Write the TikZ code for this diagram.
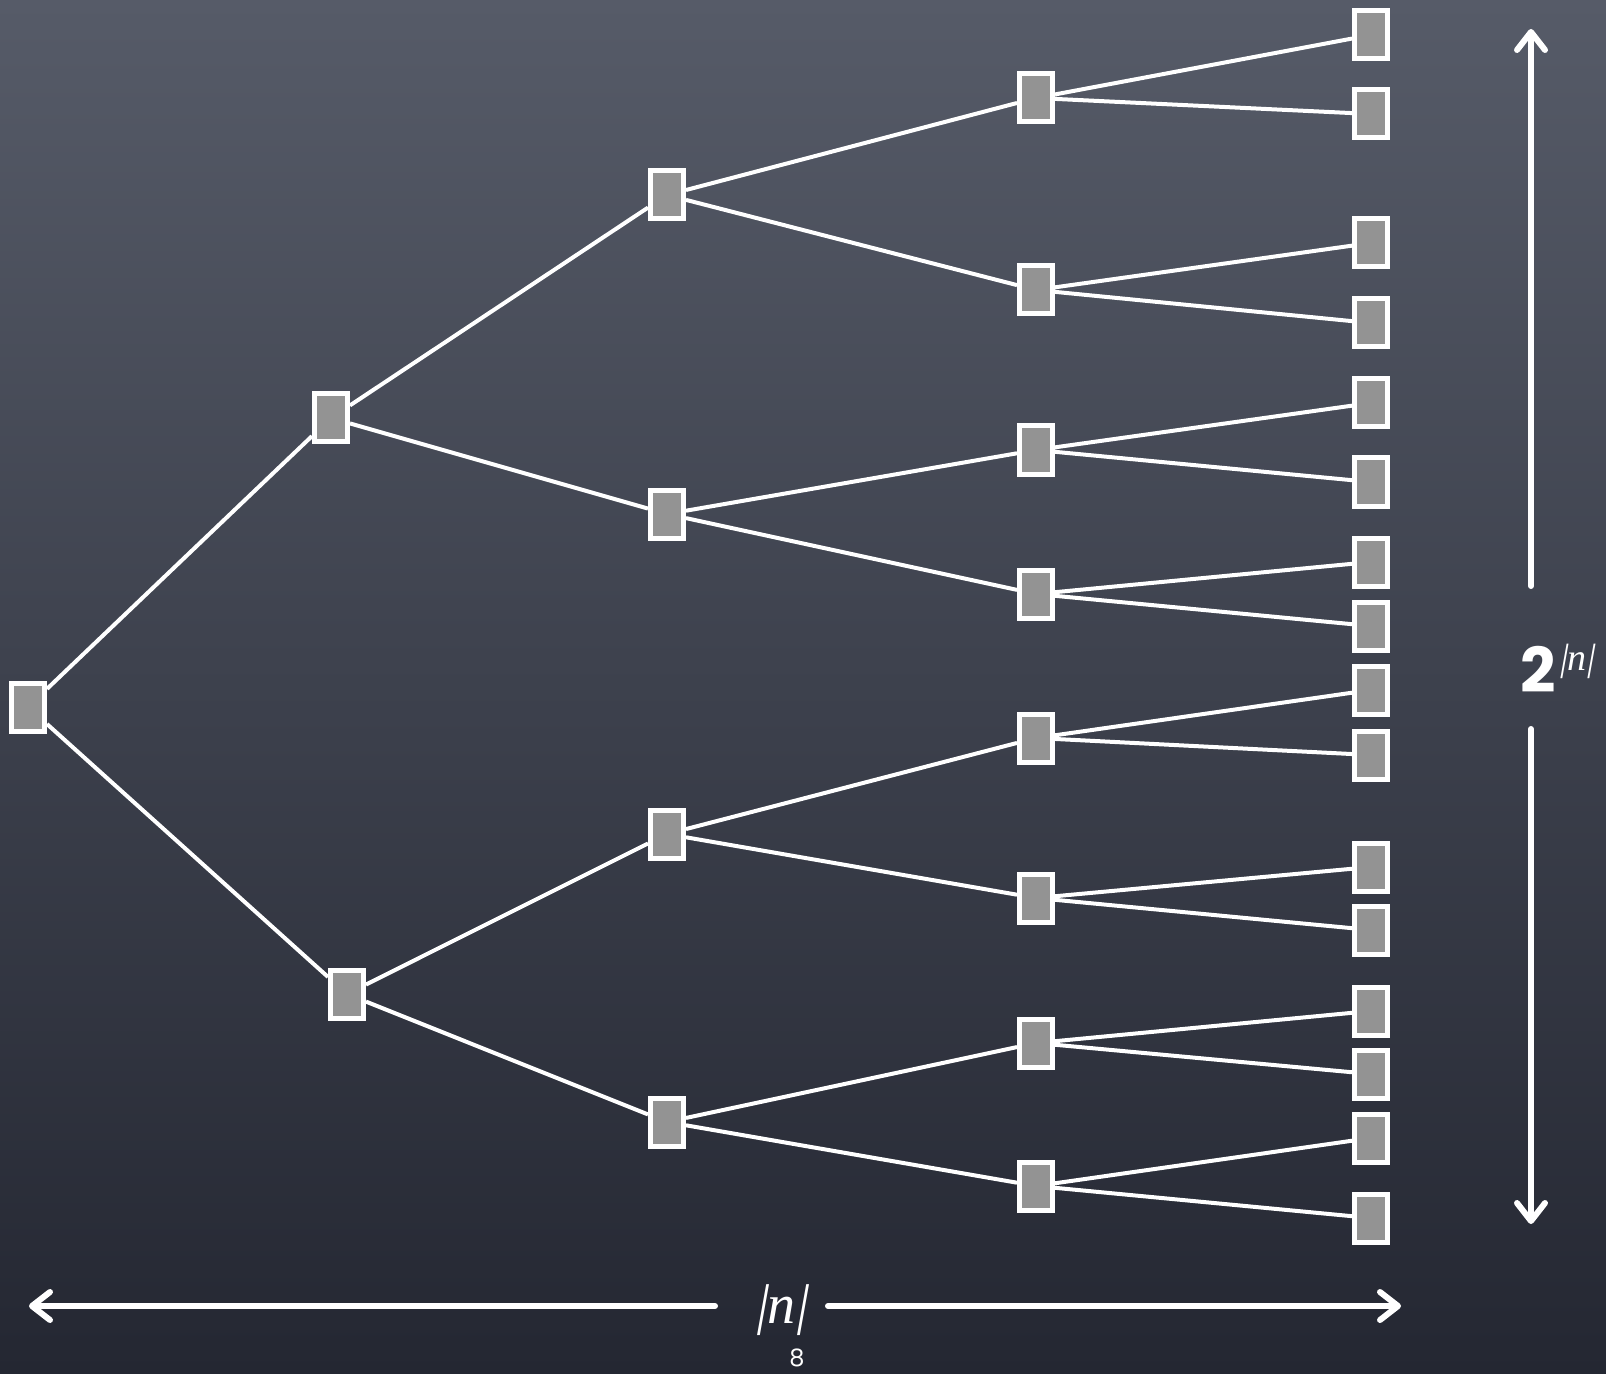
\documentclass[tikz,border=0pt]{standalone}
\usepackage{fontspec}
\setmainfont{Liberation Serif}
\newfontfamily\chalkfont{Poppins}
\newfontfamily\barfont[FakeSlant=0.18]{Liberation Serif}
\usetikzlibrary{arrows.meta,shadings}
\definecolor{boxgray}{RGB}{147,147,147}
\definecolor{boardtop}{RGB}{86,91,104}
\definecolor{boardmid}{RGB}{70,75,88}
\definecolor{boardbot}{RGB}{36,39,50}
\newcommand{\absn}{{\barfont|}\textit{n}{\barfont|}}

\begin{document}
\begin{tikzpicture}[x = 0.5pt, y = -0.5pt, > = {Straight Barb[length=9pt,width=14pt,round]},
    box/.style = {draw=white, line width=2.5pt, fill=boxgray, minimum width=16.5pt, minimum height=24pt, inner sep=0pt},
    edge/.style = {white, line width=2pt},
    dim/.style = {white, line width=3pt, line cap=round, ->}]
    \shade [top color=boardtop, middle color=boardmid, bottom color=boardbot] (0,0) rectangle (1606,1374);
    \useasboundingbox (0,0) rectangle (1606,1374);
    \node[box] (r) at (28,707) {};
    \node[box] (a) at (331,418) {};
    \node[box] (b) at (347,994) {};
    \node[box] (aa) at (667,195) {};
    \node[box] (ab) at (667,514) {};
    \node[box] (ba) at (667,834) {};
    \node[box] (bb) at (667,1122) {};
    \node[box] (aaa) at (1036,98) {};
    \node[box] (aab) at (1036,290) {};
    \node[box] (aba) at (1036,450) {};
    \node[box] (abb) at (1036,594) {};
    \node[box] (baa) at (1036,738) {};
    \node[box] (bab) at (1036,898) {};
    \node[box] (bba) at (1036,1043) {};
    \node[box] (bbb) at (1036,1186) {};
    \node[box] (aaaa) at (1371,35) {};
    \node[box] (aaab) at (1371,114) {};
    \node[box] (aaba) at (1371,243) {};
    \node[box] (aabb) at (1371,323) {};
    \node[box] (abaa) at (1371,403) {};
    \node[box] (abab) at (1371,482) {};
    \node[box] (abba) at (1371,562) {};
    \node[box] (abbb) at (1371,626) {};
    \node[box] (baaa) at (1371,690) {};
    \node[box] (baab) at (1371,755) {};
    \node[box] (baba) at (1371,867) {};
    \node[box] (babb) at (1371,930) {};
    \node[box] (bbaa) at (1371,1011) {};
    \node[box] (bbab) at (1371,1074) {};
    \node[box] (bbba) at (1371,1138) {};
    \node[box] (bbbb) at (1371,1218) {};
    \draw [edge] (r) -- (a) (r) -- (b);
    \draw [edge] (a) -- (aa) (a) -- (ab) (b) -- (ba) (b) -- (bb);
    \draw [edge] (aa) -- (aaa) (aa) -- (aab) (ab) -- (aba) (ab) -- (abb);
    \draw [edge] (ba) -- (baa) (ba) -- (bab) (bb) -- (bba) (bb) -- (bbb);
    \draw [edge] (aaa) -- (aaaa) (aaa) -- (aaab) (aab) -- (aaba) (aab) -- (aabb);
    \draw [edge] (aba) -- (abaa) (aba) -- (abab) (abb) -- (abba) (abb) -- (abbb);
    \draw [edge] (baa) -- (baaa) (baa) -- (baab) (bab) -- (baba) (bab) -- (babb);
    \draw [edge] (bba) -- (bbaa) (bba) -- (bbab) (bbb) -- (bbba) (bbb) -- (bbbb);
    \coordinate (vt) at (1531,29);
    \coordinate (vu) at (1531,586);
    \coordinate (vl) at (1531,729);
    \coordinate (vb) at (1531,1224);
    \draw [dim] (vu) -- (vt);
    \draw [dim] (vl) -- (vb);
    \node[white, inner sep=0pt] (pow) at (1557,668) {{\chalkfont\bfseries\fontsize{31}{31}\selectfont 2}\kern2pt\raisebox{11pt}{\rmfamily\mdseries\fontsize{19}{19}\selectfont\absn}};
    \coordinate (hl) at (29,1306);
    \coordinate (hm) at (715,1306);
    \coordinate (hn) at (828,1306);
    \coordinate (hr) at (1401,1306);
    \draw [dim] (hm) -- (hl);
    \draw [dim] (hn) -- (hr);
    \node[white, inner sep=0pt] (len) at (781,1310) {\fontsize{28}{28}\selectfont\absn};
    \node[white, inner sep=0pt] (page) at (797,1358) {\chalkfont\fontsize{12}{12}\selectfont 8};
\end{tikzpicture}
\end{document}
